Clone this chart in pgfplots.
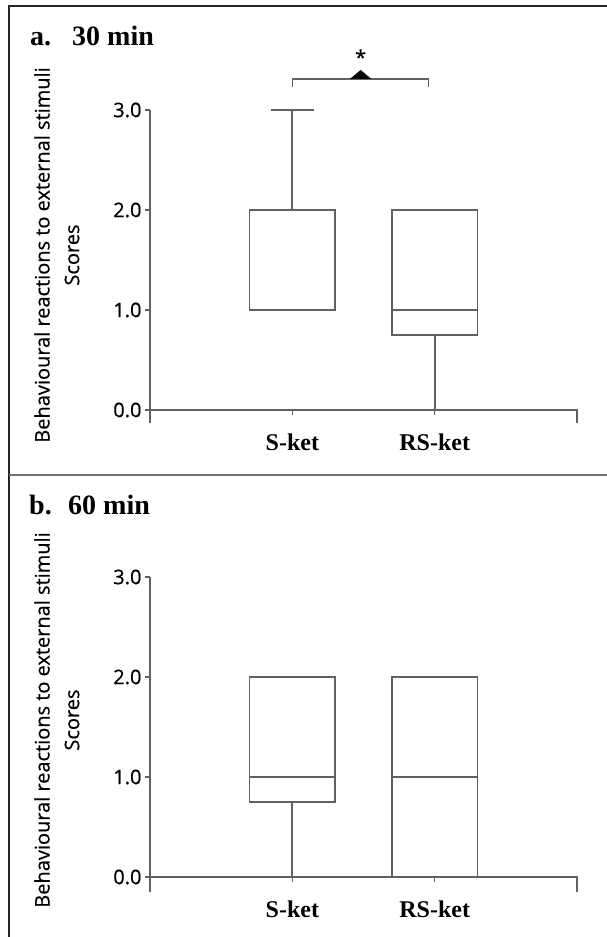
\documentclass[border=0pt]{standalone}
\usepackage{fontspec}
\setmainfont{Liberation Serif}
\newfontfamily\osans[FakeBold=0.5]{Open Sans}
\usepackage{pgfplots}
\pgfplotsset{compat=1.18}
\usepgfplotslibrary{statistics}
\definecolor{ln}{gray}{0.38}
\pgfplotsset{myax/.style={
  scale only axis, width=427bp, height=300bp,
  xmin=0, xmax=3, ymin=0, ymax=3, clip=false,
  axis line style={draw=none},
  boxplot/draw direction=y,
  boxplot/every box/.style={line width=1.6bp, draw=ln},
  boxplot/every whisker/.style={line width=2.1bp, draw=ln},
  boxplot/every median/.style={line width=1.8bp, draw=ln},
  xtick={1,2}, xticklabels={S-ket,RS-ket}, ytick={0,1,2,3},
  tick align=outside, major tick length=5bp, tick pos=left,
  tick style={line width=1.3bp, color=ln},
  /pgf/number format/assume math mode=true,
  y tick label style={font=\osans\fontsize{20bp}{20bp}\selectfont,
     /pgf/number format/fixed, /pgf/number format/fixed zerofill,
     /pgf/number format/precision=1},
  x tick label style={font=\bfseries\fontsize{24bp}{24bp}\selectfont, yshift=-15bp},
}}
\begin{document}
\begin{tikzpicture}[x=1bp,y=1bp]
\path[use as bounding box] (0,0) rectangle (607,937);
\draw[line width=2.5bp, black!85] (9,0) -- (9,931) -- (607,931);
\draw[line width=2.5bp, black!55] (9,462) -- (607,462);
% titles
\node[anchor=base west, inner sep=0, font=\bfseries\fontsize{28bp}{28bp}\selectfont] at (30,891) {a.};
\node[anchor=base west, inner sep=0, font=\bfseries\fontsize{28bp}{28bp}\selectfont] at (72,891) {30 min};
\node[anchor=base west, inner sep=0, font=\bfseries\fontsize{28bp}{28bp}\selectfont] at (29,422) {b.};
\node[anchor=base west, inner sep=0, font=\bfseries\fontsize{28bp}{28bp}\selectfont] at (68,422) {60 min};
% y labels
\node[rotate=90, inner sep=0, font=\osans\fontsize{20bp}{20bp}\selectfont] at (42,682) {Behavioural reactions to external stimuli};
\node[rotate=90, inner sep=0, font=\osans\fontsize{20bp}{20bp}\selectfont] at (72,682) {Scores};
\node[rotate=90, inner sep=0, font=\osans\fontsize{20bp}{20bp}\selectfont] at (42,217) {Behavioural reactions to external stimuli};
\node[rotate=90, inner sep=0, font=\osans\fontsize{20bp}{20bp}\selectfont] at (72,217) {Scores};

\begin{axis}[myax, at={(150bp,527bp)}, anchor=south west]
\addplot[draw=ln, line width=1.6bp, boxplot prepared={draw position=1,
  lower whisker=1, lower quartile=1, median=1, upper quartile=2, upper whisker=3,
  box extend=0.6, whisker extend=0.3}] coordinates {};
\addplot[draw=ln, line width=1.6bp, boxplot prepared={draw position=2,
  lower whisker=0, lower quartile=0.75, median=1, upper quartile=2, upper whisker=2,
  box extend=0.6, whisker extend=0.3}] coordinates {};
\draw[line width=1.4bp, ln] (axis cs:0,-0.13) -- (axis cs:0,3);
\draw[line width=1.4bp, ln] (axis cs:0,0) -- (axis cs:3,0) -- (axis cs:3,-0.13);
\draw[line width=1.3bp, ln] (axis cs:1,3.23) -- (axis cs:1,3.31) -- (axis cs:1.955,3.31) -- (axis cs:1.955,3.23);
\fill[black] (axis cs:1.405,3.31) -- (axis cs:1.555,3.31) -- (axis cs:1.48,3.40) -- cycle;
\node[inner sep=0, font=\osans\fontsize{20bp}{20bp}\selectfont] at (axis cs:1.48,3.53) {*};
\end{axis}

\begin{axis}[myax, at={(150bp,60bp)}, anchor=south west]
\addplot[draw=ln, line width=1.6bp, boxplot prepared={draw position=1,
  lower whisker=0, lower quartile=0.75, median=1, upper quartile=2, upper whisker=2,
  box extend=0.6, whisker extend=0.3}] coordinates {};
\addplot[draw=ln, line width=1.6bp, boxplot prepared={draw position=2,
  lower whisker=0, lower quartile=0, median=1, upper quartile=2, upper whisker=2,
  box extend=0.6, whisker extend=0.3}] coordinates {};
\draw[line width=1.4bp, ln] (axis cs:0,-0.15) -- (axis cs:0,3);
\draw[line width=1.4bp, ln] (axis cs:0,0) -- (axis cs:3,0) -- (axis cs:3,-0.15);
\end{axis}
\end{tikzpicture}
\end{document}
